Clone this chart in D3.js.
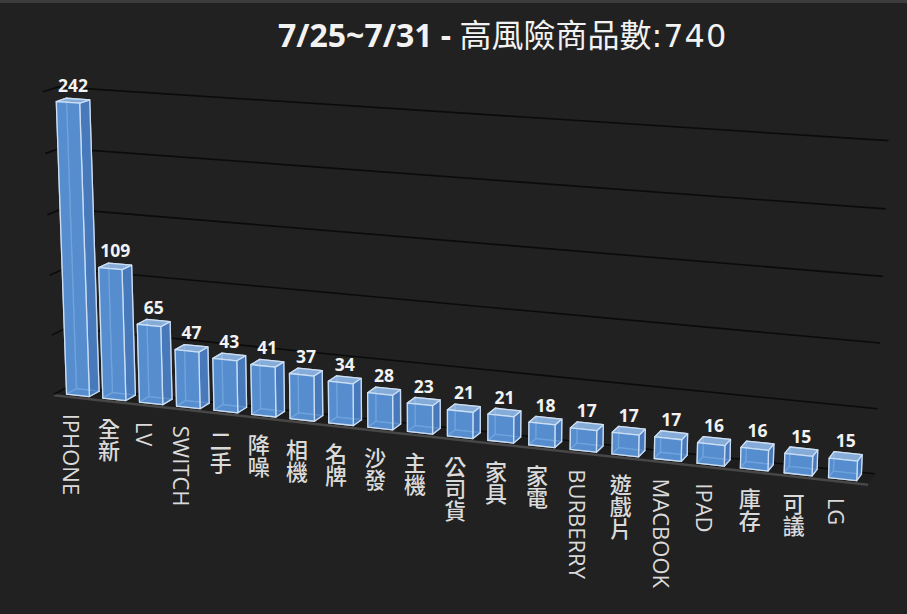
<!DOCTYPE html>
<html>
<head>
<meta charset="utf-8">
<script src="https://cdn.jsdelivr.net/npm/d3@7"></script>
<style>
  html, body { margin: 0; padding: 0; background: #212121; }
  svg { display: block; }
</style>
</head>
<body>
<svg id="chart" width="907" height="614"></svg>
<script>
// chart values
const categories = ["IPHONE", "全新", "LV", "SWITCH", "二手", "降噪", "相機", "名牌", "沙發", "主機",
                    "公司貨", "家具", "家電", "BURBERRY", "遊戲片", "MACBOOK", "IPAD", "庫存", "可議", "LG"];
const counts = [242, 109, 65, 47, 43, 41, 37, 34, 28, 23, 21, 21, 18, 17, 17, 17, 16, 16, 15, 15];
const gridTicks = [0, 50, 100, 150, 200, 250];
const titleBold = "7/25~7/31 - ";
const titleName = "高風險商品數";
const titleTotal = ":740";

const W = 907, H = 614;
const font = "'Open Sans', 'Noto Sans CJK TC', sans-serif";
const svg = d3.select("#chart");

// 3D view: world box is 20 category units wide, wallH high, floorD deep
const view = {
  yaw: 0.3574, pitch: 0.2365, dist: 59.74, focal: 2612.7,
  cx: 443.8, cy: 275.8, wallH: 7.457, floorD: 0.7505
};

// x: category units from left wall, h: height, z: 0 = front of floor, 1 = back wall
function project(x, h, z) {
  const px = x - 10, py = h - view.wallH / 2, pz = view.floorD / 2 - z * view.floorD;
  const cy = Math.cos(view.yaw), sy = Math.sin(view.yaw);
  const cp = Math.cos(view.pitch), sp = Math.sin(view.pitch);
  const x1 = px * cy - pz * sy;
  const z1 = pz * cy + px * sy;
  const y2 = py * cp - z1 * sp;
  const z2 = z1 * cp + py * sp;
  const s = view.focal / (view.dist - z2);
  return [view.cx + x1 * s, view.cy - y2 * s];
}
const pts = arr => arr.map(a => project(a[0], a[1], a[2]).join(",")).join(" ");

// scales
const x = d3.scaleBand().domain(categories).range([0, 20]).paddingInner(0.37).paddingOuter(0.28);
const y = d3.scaleLinear().domain([0, 250]).range([0, view.wallH]);
const barDepth = 0.5;
const zf = 0.5 - barDepth / view.floorD / 2, zb = 0.5 + barDepth / view.floorD / 2;

svg.append("rect").attr("width", W).attr("height", H).attr("fill", "#212121");
svg.append("rect").attr("width", W).attr("height", 3).attr("fill", "#3c3c3c");

// floor
svg.append("polygon")
  .attr("points", pts([[0, 0, 0], [20, 0, 0], [20, 0, 1], [0, 0, 1]]))
  .attr("fill", "#1d1d1d");
const f0 = project(0, 0, 0), f1 = project(20, 0, 0);
svg.append("line").attr("x1", f0[0]).attr("y1", f0[1] + 1).attr("x2", f1[0]).attr("y2", f1[1] + 1)
  .attr("stroke", "#474747").attr("stroke-width", 2.5);

// gridlines on left and back walls
const grid = svg.append("g").attr("stroke", "#0b0b0b").attr("stroke-width", 1.6).attr("fill", "none");
gridTicks.forEach(t => {
  grid.append("polyline").attr("points", pts([[0, y(t), 0], [0, y(t), 1], [20, y(t), 1]]));
});

// bars, drawn far (left) to near (right)
const bars = svg.append("g");
categories.forEach((c, i) => {
  const x0 = x(c), x1 = x0 + x.bandwidth(), h = y(counts[i]);
  const g = bars.append("g");
  const faces = [
    { p: [[x0, 0, zb], [x1, 0, zb], [x1, h, zb], [x0, h, zb]], fill: "#3f6fae", op: 0.9 },
    { p: [[x0, 0, zf], [x0, 0, zb], [x0, h, zb], [x0, h, zf]], fill: "#3f6fae", op: 0.9 },
    { p: [[x0, 0, zf], [x1, 0, zf], [x1, 0, zb], [x0, 0, zb]], fill: "#3f6fae", op: 0.9 },
    { p: [[x1, 0, zf], [x1, 0, zb], [x1, h, zb], [x1, h, zf]], fill: "#4a7ebf", op: 0.85 },
    { p: [[x0, h, zf], [x1, h, zf], [x1, h, zb], [x0, h, zb]], fill: "#8db2df", op: 0.9 },
    { p: [[x0, 0, zf], [x1, 0, zf], [x1, h, zf], [x0, h, zf]], fill: "#5b96d8", op: 0.82 }
  ];
  faces.forEach(f => {
    g.append("polygon").attr("points", pts(f.p))
      .attr("fill", f.fill).attr("fill-opacity", f.op)
      .attr("stroke", "#d3e4f7").attr("stroke-opacity", 0.85).attr("stroke-width", 1.3)
      .attr("stroke-linejoin", "round");
  });
  const lt = project(x0 + x.bandwidth() / 2, h, 0.5);
  g.append("text").attr("x", lt[0]).attr("y", lt[1] - 9)
    .attr("text-anchor", "middle").attr("fill", "#f2f2f2")
    .attr("font-family", font).attr("font-weight", "bold").attr("font-size", 17.5)
    .text(counts[i]);
});

// category labels, vertical
const labels = svg.append("g")
  .attr("font-family", font).attr("font-size", 22).attr("font-weight", 500).attr("fill", "#dadada");
categories.forEach(c => {
  const p = project(x(c) + x.bandwidth() / 2, 0, 0);
  labels.append("text")
    .attr("x", p[0] - 4).attr("y", p[1] + 17)
    .style("writing-mode", "vertical-rl")
    .text(c);
});

// title
const title = svg.append("text").attr("x", 278).attr("y", 47)
  .attr("font-family", font).attr("font-size", 32).attr("fill", "#f2f2f2");
title.append("tspan").attr("font-weight", "bold").text(titleBold);
title.append("tspan").text(titleName);
title.append("tspan").attr("font-family", "'DejaVu Sans', sans-serif").attr("font-size", 32)
  .attr("letter-spacing", 1).text(titleTotal);
</script>
</body>
</html>
